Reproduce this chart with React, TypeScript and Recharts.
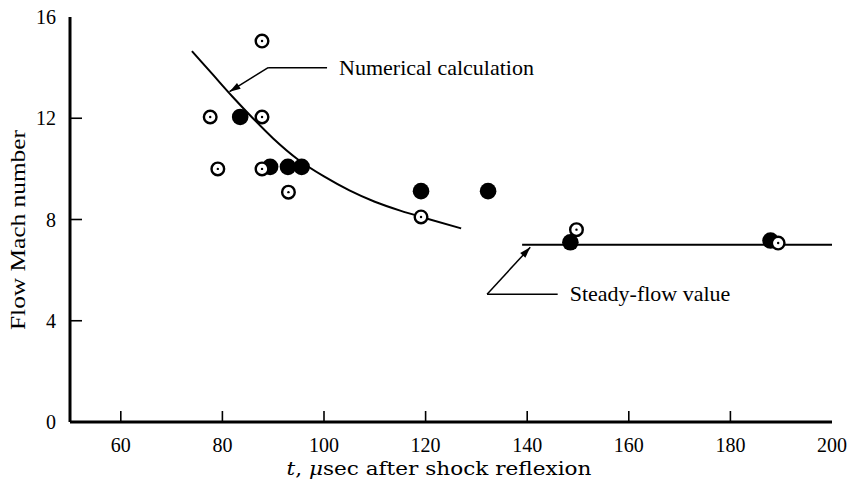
import { ComposedChart, Line, Scatter, XAxis, YAxis, ReferenceLine } from 'recharts';

const xTicks = [60, 80, 100, 120, 140, 160, 180, 200];
const yTicks = [0, 4, 8, 12, 16];

// numerical calculation curve
const calcT = [74, 78, 82, 86, 90, 95, 100, 105, 110, 115, 120, 127];
const calcM = [14.65, 13.75, 12.85, 12.0, 11.2, 10.35, 9.7, 9.15, 8.7, 8.35, 8.05, 7.65];

// steady-flow value
const steadyT = [139, 200];
const steadyM = [7, 7];

// open (dotted) circles
const openT = [77.6, 79.1, 87.8, 87.8, 87.8, 93.0, 119.1, 149.7, 189.4];
const openM = [12.05, 10.0, 15.05, 12.05, 10.0, 9.08, 8.1, 7.6, 7.07];

// filled circles
const filledT = [83.5, 89.4, 92.9, 95.6, 119.1, 132.3, 148.5, 187.9];
const filledM = [12.05, 10.08, 10.08, 10.08, 9.12, 9.12, 7.1, 7.17];

const FONT = '"Liberation Serif", "DejaVu Serif", serif';
const WIDE = '"DejaVu Serif", serif';

const zip = (ts: number[], ms: number[]) => ts.map((t, i) => ({ t, m: ms[i] }));
const calcData = zip(calcT, calcM);
const steadyData = zip(steadyT, steadyM);
const openData = zip(openT, openM);
const filledData = zip(filledT, filledM);

const XTick = (props: any) => {
  const { x, y, payload } = props;
  return (
    <g>
      {payload.value !== 200 && <line x1={x} y1={y} x2={x} y2={y - 11} stroke="#000" strokeWidth={1.6} />}
      <text x={x} y={y + 30} textAnchor="middle" fontFamily={FONT} fontSize={20} fill="#000">
        {payload.value}
      </text>
    </g>
  );
};

const YTick = (props: any) => {
  const { x, y, payload } = props;
  return (
    <g>
      {payload.value !== 0 && payload.value !== 16 && (
        <line x1={x} y1={y} x2={x + 12} y2={y} stroke="#000" strokeWidth={1.6} />
      )}
      <text x={x - 14} y={y + 7} textAnchor="end" fontFamily={FONT} fontSize={20} fill="#000">
        {payload.value}
      </text>
    </g>
  );
};

const arrowShape = (p: any) => {
  const { x1, y1, x2, y2 } = p;
  const ang = Math.atan2(y2 - y1, x2 - x1);
  const len = 11;
  const w = 3.5;
  const bx = x2 - len * Math.cos(ang);
  const by = y2 - len * Math.sin(ang);
  const px = -Math.sin(ang) * w;
  const py = Math.cos(ang) * w;
  return (
    <g>
      <line x1={x1} y1={y1} x2={x2} y2={y2} stroke="#000" strokeWidth={1.5} />
      <polygon points={`${x2},${y2} ${bx + px},${by + py} ${bx - px},${by - py}`} fill="#000" />
    </g>
  );
};

const labelShape = (label: string) => (p: any) => {
  const { x1, y1, x2, y2 } = p;
  return (
    <g>
      <line x1={x1} y1={y1} x2={x2} y2={y2} stroke="#000" strokeWidth={1.5} />
      <text x={x1 + 12} y={y1 + 7} fontFamily={FONT} fontSize={22} fill="#000">
        {label}
      </text>
    </g>
  );
};

const OpenDot = (props: any) => {
  const { cx, cy } = props;
  return (
    <g>
      <circle cx={cx} cy={cy} r={6.3} fill="#fff" stroke="#000" strokeWidth={2.4} />
      <circle cx={cx} cy={cy} r={1.2} fill="#000" />
    </g>
  );
};

const FilledDot = (props: any) => {
  const { cx, cy } = props;
  return <circle cx={cx} cy={cy} r={8.3} fill="#000" />;
};

export default function App() {
  return (
    <div style={{ position: 'absolute', left: 0, top: 0, background: '#fff' }}>
      <ComposedChart width={848} height={480} margin={{ top: 17, right: 16, bottom: 0, left: 0 }}>
        <XAxis
          xAxisId={0}
          dataKey="t"
          type="number"
          domain={[50, 200]}
          ticks={xTicks}
          allowDataOverflow
          height={58}
          tickSize={0}
          tickMargin={0}
          tickLine={false}
          tick={<XTick />}
          axisLine={{ stroke: '#000', strokeWidth: 3 }}
          label={{
            content: () => (
              <text x={439} y={475} textAnchor="middle" fontFamily={WIDE} fontSize={19} fill="#000" textLength={305} lengthAdjust="spacingAndGlyphs">
                <tspan fontStyle="italic">t</tspan>, <tspan fontStyle="italic">μ</tspan>sec after shock reflexion
              </text>
            ),
          }}
        />
        <XAxis
          xAxisId="top"
          orientation="top"
          type="number"
          domain={[50, 200]}
          height={0}
          tick={false}
          tickLine={false}
          axisLine={{ stroke: '#000', strokeWidth: 2 }}
        />
        <YAxis
          yAxisId={0}
          dataKey="m"
          type="number"
          domain={[0, 16]}
          ticks={yTicks}
          allowDataOverflow
          width={70}
          tickSize={0}
          tickMargin={0}
          tickLine={false}
          tick={<YTick />}
          axisLine={{ stroke: '#000', strokeWidth: 3 }}
          label={{
            content: () => (
              <text x={25} y={230} transform="rotate(-90, 25, 230)" textAnchor="middle" fontFamily={FONT} fontSize={22} fill="#000" textLength={200} lengthAdjust="spacingAndGlyphs">
                Flow Mach number
              </text>
            ),
          }}
        />
        <YAxis
          yAxisId="right"
          orientation="right"
          type="number"
          domain={[0, 16]}
          width={0}
          tick={false}
          tickLine={false}
          axisLine={{ stroke: '#000', strokeWidth: 3 }}
        />
        <Line data={calcData} dataKey="m" type="monotone" stroke="#000" strokeWidth={2} dot={false} isAnimationActive={false} />
        <Line data={steadyData} dataKey="m" type="linear" stroke="#000" strokeWidth={2} dot={false} isAnimationActive={false} />
        <ReferenceLine segment={[{ x: 100.6, y: 14.0 }, { x: 89.0, y: 14.0 }]} shape={labelShape('Numerical calculation')} />
        <ReferenceLine segment={[{ x: 89.0, y: 14.0 }, { x: 81.4, y: 13.05 }]} shape={arrowShape} />
        <ReferenceLine segment={[{ x: 146.0, y: 5.05 }, { x: 132.1, y: 5.05 }]} shape={labelShape('Steady-flow value')} />
        <ReferenceLine segment={[{ x: 132.1, y: 5.05 }, { x: 140.6, y: 6.9 }]} shape={arrowShape} />
        <Scatter data={filledData} dataKey="m" shape={<FilledDot />} isAnimationActive={false} />
        <Scatter data={openData} dataKey="m" shape={<OpenDot />} isAnimationActive={false} />
      </ComposedChart>
    </div>
  );
}
